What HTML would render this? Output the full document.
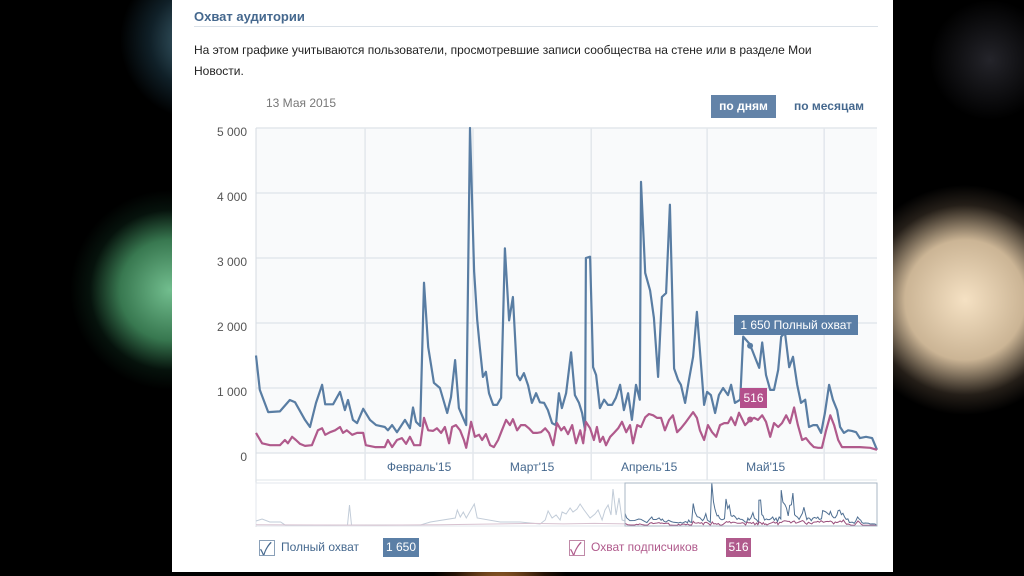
<!DOCTYPE html>
<html><head><meta charset="utf-8">
<style>
html,body{margin:0;padding:0;}
body{width:1024px;height:576px;overflow:hidden;position:relative;background:#000;font-family:"Liberation Sans","Noto Sans CJK SC",sans-serif;}
#bg{position:absolute;left:0;top:0;width:1024px;height:576px;
background:
radial-gradient(circle at 170px 290px, rgba(120,200,150,0.95) 0, rgba(70,150,100,0.8) 50px, rgba(20,60,40,0.3) 80px, rgba(0,0,0,0) 100px),
radial-gradient(circle at 200px 40px, rgba(90,140,160,0.8) 0, rgba(40,80,100,0.4) 50px, rgba(0,0,0,0) 80px),
radial-gradient(circle at 965px 300px, rgba(245,225,195,1) 0, rgba(225,200,165,0.9) 60px, rgba(120,100,80,0.3) 95px, rgba(0,0,0,0) 115px),
radial-gradient(circle at 990px 60px, rgba(60,60,70,0.6) 0, rgba(0,0,0,0) 60px),
radial-gradient(ellipse at 500px 600px, rgba(220,140,60,0.9) 0, rgba(120,60,20,0.3) 50px, rgba(0,0,0,0) 70px),
#000;}
#panel{position:absolute;left:172px;top:0;width:721px;height:572px;background:#fff;}
.t{position:absolute;white-space:nowrap;}
</style></head>
<body>
<div id="bg"></div>
<div id="panel"></div>
<div class="t" style="left:194px;top:9px;font-size:13px;font-weight:bold;color:#45688e;">Охват аудитории</div>
<div style="position:absolute;left:194px;top:26px;width:684px;height:1px;background:#dae1e8;"></div>
<div class="t" style="left:194px;top:40px;font-size:12px;color:#222;line-height:21px;">На этом графике учитываются пользователи, просмотревшие записи сообщества на стене или в разделе Мои<br>Новости.</div>
<div class="t" style="left:266px;top:96px;font-size:12px;color:#777;">13 Мая 2015</div>
<div class="t" style="left:711px;top:95px;width:65px;height:23px;line-height:23px;text-align:center;background:#6383a8;color:#fff;font-size:12px;font-weight:bold;">по дням</div>
<div class="t" style="left:794px;top:95px;height:23px;line-height:23px;color:#45688e;font-size:12px;font-weight:bold;">по месяцам</div>

<svg id="chart" width="1024" height="576" style="position:absolute;left:0;top:0;"></svg>

<div style="position:absolute;left:259px;top:539px;">
 <div style="position:absolute;left:0;top:1px;width:14px;height:14px;border:1px solid #8aa0b8;background:#fff;"></div>
 <div class="t" style="left:1px;top:-4px;font-size:17px;color:#45688e;">✓</div>
 <div class="t" style="left:22px;top:1px;font-size:12px;color:#45688e;">Полный охват</div>
 <div class="t" style="left:124px;top:-1px;width:36px;height:19px;line-height:19px;text-align:center;background:#5b7fa6;color:#fff;font-size:12px;">1 650</div>
</div>
<div style="position:absolute;left:569px;top:539px;">
 <div style="position:absolute;left:0;top:1px;width:14px;height:14px;border:1px solid #c08aa8;background:#fff;"></div>
 <div class="t" style="left:1px;top:-4px;font-size:17px;color:#b05a8c;">✓</div>
 <div class="t" style="left:22px;top:1px;font-size:12px;color:#b05a8c;">Охват подписчиков</div>
 <div class="t" style="left:157px;top:-1px;width:25px;height:19px;line-height:19px;text-align:center;background:#b05a8c;color:#fff;font-size:12px;">516</div>
</div>

<script>
const yTicks=[0,1000,2000,3000,4000,5000];
const yTickLabels=["0","1 000","2 000","3 000","4 000","5 000"];
const monthStarts=[28.7,57.1,88.2,118.7,149.5];
const monthLabels=["Февраль'15","Март'15","Апрель'15","Май'15"];
const blueDays=[0,1,3.2,6.3,8.9,10.3,12.9,14.2,15.8,17.4,18.2,20.3,22.1,23.4,24.2,25.5,26.6,28.2,30,31.6,33.9,34.7,35.8,37.1,39.2,40.5,41.3,42.1,43.2,44.2,45.3,46.8,48.4,50.3,51.3,52.4,53.4,54.5,55.3,56.3,57.4,58.2,58.9,59.7,60.5,61.3,62.4,63.4,64.5,65.5,66.6,67.6,68.7,69.5,70.5,71.6,72.6,73.7,74.7,75.8,76.8,77.9,78.9,79.7,80.5,81.6,82.9,83.9,85,85.8,86.6,86.8,87.9,88.7,89.5,90.5,91.6,92.6,93.7,94.7,95.8,96.8,97.9,98.9,100,101,101.3,102.4,103.7,104.7,105.8,106.8,107.9,108.9,110,111.1,111.8,112.9,113.9,115,116,116.8,117.9,118.7,119.7,120.8,121.8,122.9,124.2,125,126,127.4,128.2,129.7,130.5,131.6,132.4,133.2,134.2,135.3,136.3,137.4,138.2,139.2,140.3,141.3,142.4,143.4,144.5,145.5,146.6,147.6,148.7,149.7,150.8,151.8,152.9,153.7,154.7,155.8,156.8,157.9,158.9,160.5,162.1,163.4];
const blueVals=[1500,970,630,640,815,780,510,400,770,1050,750,750,940,660,815,510,460,680,510,430,400,350,430,320,510,380,700,480,415,2620,1630,1080,1000,615,860,1430,690,540,430,5000,2800,2050,1630,1170,1250,920,740,740,850,3150,2040,2400,1200,1120,1230,1040,770,920,780,770,660,460,430,920,690,920,1550,890,770,615,350,3000,3020,1320,1200,690,820,740,740,850,1050,660,920,510,1050,820,4170,2770,2500,2080,1170,2400,2460,3820,1300,1120,1050,770,1120,1480,2170,1580,740,940,890,615,890,1000,890,1050,770,820,1790,1690,1590,1430,1310,1700,1200,970,970,1280,1790,1850,1320,1480,1050,770,820,400,430,430,310,615,1050,820,660,400,310,350,340,320,230,250,230,50];
const pinkDays=[0,1.6,3.7,6.3,7.6,8.4,9.5,10.5,11.6,12.9,14.7,16.3,17.4,18.2,19.5,20.8,22.1,22.9,23.9,25.3,26.6,28.2,28.9,31.3,33.9,34.7,35.8,37.1,38.4,39.5,40.5,41.6,43.2,44.2,45.3,46.6,47.6,48.7,49.7,50.8,51.6,52.6,53.7,54.7,55.3,56.6,57.6,58.7,59.5,60.5,61.6,62.6,63.7,64.7,65.8,66.8,67.6,68.7,69.7,70.8,71.8,72.9,73.9,75,76.1,77.1,78.2,79.2,80.3,81.1,82.1,83.2,84.2,85.3,86.1,86.8,87.9,88.9,89.7,90.5,91.3,92.1,93.2,94.2,95.3,96.3,97.4,98.4,99.2,100.3,101.3,102.4,103.4,104.5,105.5,106.6,107.6,108.7,109.7,110.8,111.8,112.9,113.9,115,116,116.8,117.9,118.9,120,121.1,122.1,123.2,124.2,125,126.1,127.1,128.7,130,131.1,132.1,133.2,134.2,135.3,136.3,137.4,138.4,139.5,140.5,141.6,142.6,143.7,144.7,145.8,146.8,147.9,148.9,150,151.1,152.1,153.2,154.2,156.3,158.9,161.6,163.4];
const pinkVals=[310,150,120,120,200,150,250,200,140,110,120,350,380,280,320,350,400,310,350,280,310,310,120,90,90,200,90,200,230,140,250,120,120,540,350,340,380,310,400,150,400,430,350,200,80,480,250,280,200,290,120,90,200,350,510,430,520,350,430,430,380,310,310,320,380,310,120,460,350,400,290,430,150,350,150,480,380,200,400,170,250,120,250,310,380,480,320,430,150,430,400,550,600,580,540,540,350,510,580,320,380,460,540,630,540,350,200,430,320,250,430,460,460,550,430,620,430,510,540,510,580,480,250,460,400,460,580,460,700,430,200,230,150,90,80,80,350,580,430,200,90,90,90,80,50];
const navOldDays=[-240,-236,-231,-224,-221,-192,-180.5,-179.2,-177.9,-133,-126.6,-110.4,-109.1,-107.1,-105.2,-103.2,-98,-96.1,-81.2,-68.2,-55.2,-51.9,-50,-47.4,-44.8,-42.2,-40.9,-38.3,-35.7,-33.8,-31.2,-29.2,-26.6,-22.7,-19.5,-17.5,-14.9,-13,-11,-9.1,-7.8,-5.8,-3.9,-1.9,0];
const navOldVals=[580,810,470,470,100,100,120,2440,120,120,470,930,1860,1050,1630,930,2560,930,470,470,230,700,1740,930,1280,700,1630,1400,2090,1630,1980,2560,1860,930,1400,1860,700,1860,2440,1280,4300,1280,3260,700,580];
const navOldPinkDays=[-240,-200,-160,-120,-80,-60,-40,-20,0];
const navOldPinkVals=[150,120,100,150,250,300,250,300,250];
const tooltipDay=130;

const svg=document.getElementById('chart');
const NS='http://www.w3.org/2000/svg';
const X0=256,X1=877,YT=128,YB=453;
const DMAX=163.4;
const xS=d=>X0+(d/DMAX)*(X1-X0);
const yS=v=>YB-(v/5000)*(YB-YT);
const NX0=256,NX1=877,NSEL=625,NYT=483,NYB=526,NDMIN=-240;
const nxS=d=>d<0?NX0+(d-NDMIN)/(0-NDMIN)*(NSEL-NX0):NSEL+(d/DMAX)*(NX1-NSEL);
const nyS=v=>NYB-(v/5000)*(NYB-NYT);
function mk(tag,attrs){const e=document.createElementNS(NS,tag);for(const k in attrs)e.setAttribute(k,attrs[k]);svg.appendChild(e);return e;}

let e=mk('rect',{x:X0,y:YT,width:X1-X0,height:YB-YT,fill:'#f9fafb'});


yTicks.forEach((t,i)=>{
  const g=mk('line',{x1:X0,x2:X1,y1:yS(t),y2:yS(t),stroke:'#e3e7ec','stroke-width':1.5});
  
  
  const l=mk('text',{x:247,y:yS(t)+8,'text-anchor':'end','font-size':12,fill:'#555'});
  l.textContent=yTickLabels[i];
  
  
});
monthStarts.forEach(d=>{
  const g=mk('line',{x1:xS(d),x2:xS(d),y1:YT,y2:480,stroke:'#e3e7ec','stroke-width':1.5});
  
  
});
e=mk('line',{x1:X0,x2:X0,y1:YT,y2:527,stroke:'#d5dbe2','stroke-width':1});


e=mk('line',{x1:X0,x2:X1,y1:480,y2:480,stroke:'#dfe4ea','stroke-width':1});


monthLabels.forEach((m,i)=>{
  const t=mk('text',{x:(xS(monthStarts[i])+xS(monthStarts[i+1]))/2,y:471,'text-anchor':'middle','font-size':12,fill:'#45688e'});
  t.textContent=m;
  
  
});
function pts(ds,vs,xf,yf){return ds.map((d,i)=>xf(d).toFixed(1)+','+yf(vs[i]).toFixed(1)).join(' ');}
e=mk('polyline',{points:pts(blueDays,blueVals,xS,yS),fill:'none',stroke:'#597da3','stroke-width':2.2,'stroke-linejoin':'round'});


e=mk('polyline',{points:pts(pinkDays,pinkVals,xS,yS),fill:'none',stroke:'#b05a8c','stroke-width':2.2,'stroke-linejoin':'round'});



e=mk('rect',{x:NX0,y:NYT,width:NX1-NX0,height:NYB-NYT,fill:'#fff',stroke:'#e3e7ec'});


e=mk('polyline',{points:pts(navOldDays,navOldVals,nxS,nyS),fill:'none',stroke:'#c2ccd8','stroke-width':1});


e=mk('polyline',{points:pts(navOldPinkDays,navOldPinkVals,nxS,nyS),fill:'none',stroke:'#d8c2d0','stroke-width':1});


e=mk('polyline',{points:pts(blueDays,blueVals,nxS,nyS),fill:'none',stroke:'#4f6f92','stroke-width':1});


e=mk('polyline',{points:pts(pinkDays,pinkVals,nxS,nyS),fill:'none',stroke:'#9a4f7c','stroke-width':1});


e=mk('rect',{x:NSEL,y:NYT,width:NX1-NSEL,height:NYB-NYT,fill:'none',stroke:'#a9b7c6','stroke-width':1});



const tx=xS(tooltipDay);
e=mk('circle',{cx:tx,cy:yS(1650),r:3,fill:'#597da3'});


e=mk('circle',{cx:tx,cy:yS(516),r:3,fill:'#b05a8c'});


e=mk('rect',{x:734,y:315,width:124,height:20,fill:'#5a7ea6'});


e=mk('text',{x:796,y:329,'text-anchor':'middle','font-size':12,fill:'#fff'});
e.textContent='1 650 Полный охват';


e=mk('rect',{x:740,y:388,width:27,height:20,fill:'#b4508c'});


e=mk('text',{x:753.5,y:402,'text-anchor':'middle','font-size':12,fill:'#fff'});
e.textContent='516';


</script>
</body></html>
